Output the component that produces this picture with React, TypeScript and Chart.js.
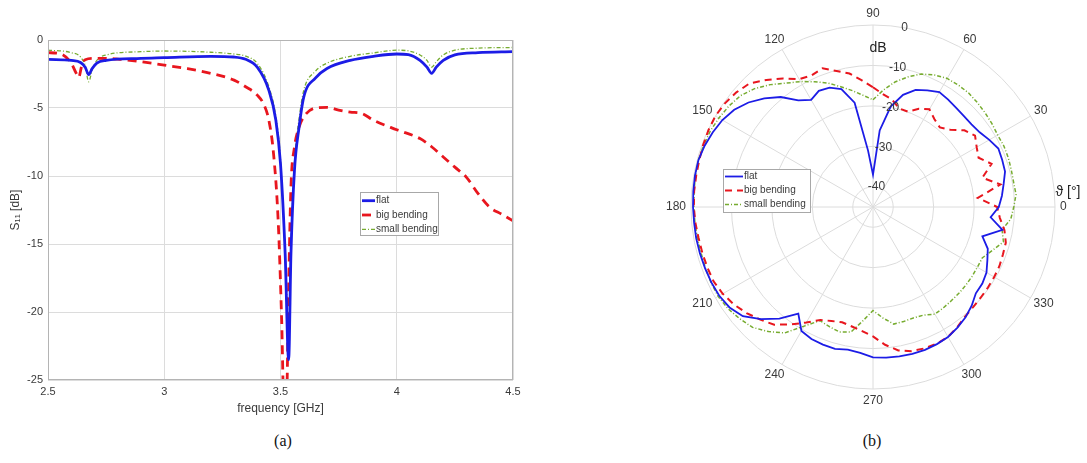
import React, { useEffect, useRef } from 'react';
import { Chart, registerables } from 'chart.js';

Chart.register(...registerables);
Chart.defaults.font.family = '"Liberation Sans", Arial, Helvetica, sans-serif';

// ---------------- (a) S11 vs frequency ----------------
const seriesNames = ['flat', 'big bending', 'small bending'];

const flatFreq = [2.5, 2.6, 2.64, 2.66, 2.675, 2.69, 2.71, 2.75, 2.9, 3.0, 3.2, 3.3, 3.35, 3.4, 3.45, 3.48, 3.5, 3.52, 3.535, 3.545, 3.56, 3.58, 3.6, 3.65, 3.7, 3.8, 3.9, 4.0, 4.05, 4.1, 4.13, 4.15, 4.17, 4.2, 4.25, 4.35, 4.5];
const flatS11 = [-1.42, -1.5, -1.65, -2.0, -2.55, -2.1, -1.7, -1.5, -1.35, -1.3, -1.2, -1.25, -1.42, -2.0, -3.7, -5.9, -9.1, -15.7, -23.5, -15.7, -9.6, -6.4, -4.2, -2.8, -2.1, -1.5, -1.2, -1.03, -1.08, -1.5, -2.0, -2.45, -2.0, -1.5, -1.1, -0.93, -0.86];

const smallFreq = [2.5, 2.6, 2.64, 2.66, 2.675, 2.69, 2.71, 2.75, 2.9, 3.0, 3.2, 3.3, 3.35, 3.4, 3.45, 3.48, 3.5, 3.52, 3.535, 3.545, 3.56, 3.58, 3.6, 3.65, 3.7, 3.8, 3.9, 4.0, 4.05, 4.1, 4.13, 4.15, 4.17, 4.2, 4.25, 4.35, 4.5];
const smallS11 = [-0.74, -0.93, -1.25, -1.9, -3.07, -2.2, -1.5, -1.1, -0.86, -0.81, -0.9, -1.03, -1.18, -1.72, -3.44, -5.65, -8.8, -15.7, -21.0, -15.0, -9.0, -5.8, -3.7, -2.3, -1.7, -1.2, -0.95, -0.75, -0.8, -1.1, -1.5, -2.0, -1.6, -1.1, -0.75, -0.6, -0.55];

const bigFreq = [2.5, 2.55, 2.6, 2.62, 2.632, 2.645, 2.66, 2.7, 2.8, 2.9, 3.0, 3.1, 3.2, 3.3, 3.35, 3.4, 3.43, 3.45, 3.47, 3.49, 3.505, 3.515, 3.525, 3.535, 3.545, 3.56, 3.58, 3.6, 3.65, 3.7, 3.75, 3.8, 3.85, 3.9, 4.0, 4.1, 4.15, 4.2, 4.25, 4.3, 4.35, 4.4, 4.45, 4.5];
const bigS11 = [-0.93, -1.0, -1.7, -2.4, -2.75, -1.9, -1.45, -1.35, -1.4, -1.6, -1.85, -2.1, -2.45, -2.95, -3.44, -4.05, -4.8, -5.9, -8.35, -13.3, -20.6, -27, -27, -18.2, -10.8, -7.9, -6.4, -5.65, -5.0, -4.95, -5.15, -5.3, -5.4, -5.9, -6.6, -7.25, -7.85, -8.6, -9.35, -10.1, -11.3, -12.3, -12.8, -13.3];

const freqTicks = [2.5, 3, 3.5, 4, 4.5];
const s11Ticks = [0, -5, -10, -15, -20, -25];

// ---------------- (b) radiation pattern ----------------
const polarAngles = [0, 5, 10, 15, 20, 25, 30, 35, 40, 45, 50, 55, 60, 65, 70, 75, 80, 85, 90, 95, 100, 105, 110, 115, 120, 125, 130, 135, 140, 145, 150, 155, 160, 165, 170, 175, 180, 185, 190, 195, 200, 205, 210, 215, 220, 225, 230, 235, 240, 245, 250, 255, 260, 265, 270, 275, 280, 285, 290, 295, 300, 305, 310, 315, 320, 325, 330, 335, 340, 345, 350, 355];
const flatPattern = [-13.9, -13.0, -12.2, -11.2, -11.0, -10.8, -11.8, -12.8, -13.2, -13.2, -13.0, -12.6, -12.2, -13.2, -14.2, -16.3, -19.8, -26.0, -37.0, -31.0, -18.8, -14.8, -13.6, -13.3, -14.4, -12.8, -9.5, -7.0, -4.8, -3.1, -2.0, -1.3, -0.7, -0.3, -0.3, -0.4, -0.5, -0.6, -0.6, -0.7, -0.8, -0.9, -1.1, -1.7, -3.0, -5.8, -9.0, -12.8, -9.6, -9.0, -8.8, -8.7, -9.2, -8.8, -7.8, -7.6, -7.5, -7.4, -7.4, -7.6, -7.9, -8.6, -9.4, -10.5, -11.8, -12.0, -12.6, -13.8, -14.8, -17.0, -12.5, -15.8];
const bigPattern = [-14.3, -19.0, -13.0, -17.0, -13.8, -16.2, -15.4, -14.2, -15.5, -18.0, -19.3, -18.5, -17.1, -18.2, -19.9, -19.8, -18.0, -17.0, -15.4, -13.6, -11.5, -10.2, -8.5, -9.1, -8.5, -6.2, -4.0, -1.8, -0.9, -0.3, 0, -0.1, -0.3, -0.5, -0.6, -0.6, -0.7, -0.9, -1.2, -1.3, -1.4, -1.5, -2.1, -3.0, -4.2, -5.6, -7.0, -9.6, -12.0, -14.2, -15.0, -15.5, -15.0, -14.2, -13.0, -10.8, -9.0, -8.1, -7.8, -7.7, -7.9, -8.7, -9.6, -10.0, -10.2, -10.3, -10.4, -10.5, -10.8, -11.0, -12.0, -13.5];
const smallPattern = [-10.2, -9.5, -9.7, -9.6, -9.4, -9.3, -9.4, -9.1, -8.8, -8.5, -8.2, -8.2, -8.3, -9.0, -10.0, -11.7, -13.6, -16.0, -18.5, -17.3, -15.8, -14.2, -12.4, -10.8, -9.2, -7.6, -5.5, -3.6, -2.2, -1.5, -1.0, -0.6, -0.4, -0.3, -0.4, -0.6, -0.7, -0.8, -0.9, -1.0, -0.9, -0.8, -0.8, -1.2, -2.0, -2.9, -4.8, -7.0, -11.0, -14.0, -13.5, -13.0, -13.6, -16.8, -19.4, -17.5, -15.6, -15.7, -15.8, -15.5, -14.4, -14.6, -14.8, -14.9, -15.0, -15.1, -15.2, -15.2, -13.6, -11.6, -12.6, -10.8];
const angleTickLabels = [0, 30, 60, 90, 120, 150, 180, 210, 240, 270, 300, 330];
const rTicks = [-40, -30, -20, -10, 0];

// ---------------- styles ----------------
const BLUE = '#1c1ce6';
const RED = '#e8161e';
const GREEN = '#77ac30';
const GRID = '#dcdcdc';
const FRAME = '#b4b4b4';
const TXT = '#3a3a3a';

function boxLegend(id: string, o: any) {
  return {
    id,
    afterDraw(chart: any) {
      const ctx = chart.ctx;
      ctx.save();
      ctx.fillStyle = '#ffffff';
      ctx.fillRect(o.x, o.y, o.w, o.h);
      ctx.strokeStyle = '#a8a8a8';
      ctx.lineWidth = 1;
      ctx.setLineDash([]);
      ctx.strokeRect(o.x + 0.5, o.y + 0.5, o.w, o.h);
      ctx.font = o.fontSize + 'px "Liberation Sans", Arial, sans-serif';
      ctx.textBaseline = 'middle';
      ctx.textAlign = 'left';
      chart.data.datasets.forEach((ds: any, i: number) => {
        const yy = o.y + o.first + i * o.row;
        ctx.beginPath();
        ctx.setLineDash(ds.borderDash || []);
        ctx.strokeStyle = ds.borderColor;
        ctx.lineWidth = ds.borderWidth;
        ctx.moveTo(o.x + o.pad, yy);
        ctx.lineTo(o.x + o.pad + o.lineLen, yy);
        ctx.stroke();
        ctx.setLineDash([]);
        ctx.fillStyle = TXT;
        ctx.fillText(ds.label, o.x + o.pad + o.lineLen + 1, yy);
      });
      ctx.restore();
    },
  };
}

const frameBox = {
  id: 'frameBox',
  afterDatasetsDraw(chart: any) {
    const { left, top, right, bottom } = chart.chartArea;
    const ctx = chart.ctx;
    ctx.save();
    ctx.strokeStyle = FRAME;
    ctx.lineWidth = 1;
    ctx.setLineDash([]);
    ctx.strokeRect(left + 0.5, top + 0.5, right - left - 1, bottom - top - 1);
    ctx.restore();
  },
};

const polarText = {
  id: 'polarText',
  afterDraw(chart: any) {
    const s = chart.scales.r;
    const ctx = chart.ctx;
    const cx = s.xCenter;
    const cy = s.yCenter;
    const R = s.drawingArea;
    ctx.save();
    ctx.fillStyle = TXT;
    ctx.textAlign = 'center';
    ctx.textBaseline = 'middle';
    ctx.font = '12px "Liberation Sans", Arial, sans-serif';
    angleTickLabels.forEach((a) => {
      const rad = (a * Math.PI) / 180;
      const c = Math.cos(rad);
      const sn = Math.sin(rad);
      const txt = String(a);
      const w = ctx.measureText(txt).width;
      const r0 = R + 5;
      ctx.fillText(txt, cx + c * (r0 + w / 2), cy - sn * (r0 + 6.5));
    });
    const tr = (80 * Math.PI) / 180;
    rTicks.forEach((v) => {
      const d = s.getDistanceFromCenterForValue(v);
      ctx.fillText(String(v), cx + Math.cos(tr) * d, cy - Math.sin(tr) * d);
    });
    ctx.font = '14px "Liberation Sans", Arial, sans-serif';
    ctx.fillStyle = '#222';
    ctx.fillText('dB', cx + 5, cy - 159);
    ctx.fillText('ϑ [°]', cx + 195, cy - 15);
    ctx.restore();
  },
};

function S11Chart() {
  const ref = useRef<HTMLCanvasElement>(null);
  useEffect(() => {
    const mk = (xs: number[], ys: number[]) => xs.map((x, i) => ({ x, y: ys[i] }));
    const chart = new Chart(ref.current as HTMLCanvasElement, {
      type: 'line',
      data: {
        datasets: [
          { label: seriesNames[0], data: mk(flatFreq, flatS11), borderColor: BLUE, borderWidth: 2.8, pointRadius: 0, cubicInterpolationMode: 'monotone', fill: false },
          { label: seriesNames[1], data: mk(bigFreq, bigS11), borderColor: RED, borderWidth: 2.8, borderDash: [9, 6], pointRadius: 0, cubicInterpolationMode: 'monotone', fill: false },
          { label: seriesNames[2], data: mk(smallFreq, smallS11), borderColor: GREEN, borderWidth: 1.3, borderDash: [4, 2, 1, 2], pointRadius: 0, cubicInterpolationMode: 'monotone', fill: false },
        ] as any,
      },
      options: {
        responsive: false,
        animation: false,
        devicePixelRatio: 1,
        layout: { padding: { top: 40, right: 27, left: 0, bottom: 0 } },
        plugins: { legend: { display: false }, tooltip: { enabled: false } },
        scales: {
          x: {
            type: 'linear',
            min: 2.5,
            max: 4.5,
            afterBuildTicks: (s: any) => { s.ticks = freqTicks.map((v) => ({ value: v })); },
            ticks: { color: TXT, font: { size: 11 }, padding: 5, callback: (v: any) => String(v) },
            grid: { color: GRID, drawTicks: false },
            border: { display: false },
            title: { display: true, text: 'frequency [GHz]', color: TXT, font: { size: 12 }, padding: { top: 0, bottom: 4 } },
            afterFit: (s: any) => { s.height = 40; },
          },
          y: {
            min: -25,
            max: 0,
            afterBuildTicks: (s: any) => { s.ticks = s11Ticks.map((v) => ({ value: v })); },
            ticks: { color: TXT, font: { size: 11 }, padding: 5, callback: (v: any) => String(v) },
            grid: { color: GRID, drawTicks: false },
            border: { display: false },
            title: { display: true, text: 'S₁₁ [dB]', color: TXT, font: { size: 12 }, padding: { top: 8, bottom: 0 } },
            afterFit: (s: any) => { s.width = 48; },
          },
        },
      } as any,
      plugins: [frameBox, boxLegend('legA', { x: 360, y: 192, w: 78, h: 43, first: 8.7, row: 14.3, pad: 2, lineLen: 13, fontSize: 10 })],
    });
    return () => chart.destroy();
  }, []);
  return <canvas ref={ref} width={540} height={420} style={{ position: 'absolute', left: 0, top: 0, width: 540, height: 420 }} />;
}

function PolarChart() {
  const ref = useRef<HTMLCanvasElement>(null);
  useEffect(() => {
    // radar indices run clockwise from the top (90°); theta decreases
    const order = polarAngles.map((_, i) => (90 - 5 * i + 720) % 360);
    const pick = (arr: number[]) => order.map((a) => arr[polarAngles.indexOf(a)]);
    const chart = new Chart(ref.current as HTMLCanvasElement, {
      type: 'radar',
      data: {
        labels: order.map(String),
        datasets: [
          { label: seriesNames[0], data: pick(flatPattern), borderColor: BLUE, borderWidth: 1.8, pointRadius: 0, fill: false, backgroundColor: 'transparent' },
          { label: seriesNames[1], data: pick(bigPattern), borderColor: RED, borderWidth: 2, borderDash: [7, 5], pointRadius: 0, fill: false, backgroundColor: 'transparent' },
          { label: seriesNames[2], data: pick(smallPattern), borderColor: GREEN, borderWidth: 1.5, borderDash: [4, 2, 1, 2], pointRadius: 0, fill: false, backgroundColor: 'transparent' },
        ] as any,
      },
      options: {
        responsive: false,
        animation: false,
        devicePixelRatio: 1,
        layout: { padding: { left: 31, top: 25, right: 31, bottom: 31 } },
        plugins: { legend: { display: false }, tooltip: { enabled: false } },
        scales: {
          r: {
            min: -45,
            max: 0,
            startAngle: 0,
            beginAtZero: false,
            afterBuildTicks: (s: any) => { s.ticks = rTicks.map((v) => ({ value: v })); },
            ticks: { display: false },
            pointLabels: { display: false },
            grid: { circular: true, color: GRID, lineWidth: 1 },
            angleLines: { display: true, color: GRID, lineWidth: (c: any) => (c.index % 6 === 0 ? 1 : 0) },
          },
        },
      } as any,
      plugins: [polarText, boxLegend('legB', { x: 63, y: 169, w: 87, h: 43, first: 7.5, row: 14, pad: 2, lineLen: 18, fontSize: 10 })],
    });
    return () => chart.destroy();
  }, []);
  return <canvas ref={ref} width={426} height={420} style={{ position: 'absolute', left: 660, top: 0, width: 426, height: 420 }} />;
}

export default function App() {
  const cap: React.CSSProperties = {
    position: 'absolute',
    top: 432,
    width: 60,
    textAlign: 'center',
    fontFamily: '"Liberation Serif", "Times New Roman", serif',
    fontSize: 16,
    color: '#111',
  };
  return (
    <div style={{ position: 'absolute', left: 0, top: 0, width: 1087, height: 463, background: '#fff', overflow: 'hidden' }}>
      <S11Chart />
      <PolarChart />
      <div style={{ ...cap, left: 283 - 30 }}>(a)</div>
      <div style={{ ...cap, left: 872 - 30 }}>(b)</div>
    </div>
  );
}
